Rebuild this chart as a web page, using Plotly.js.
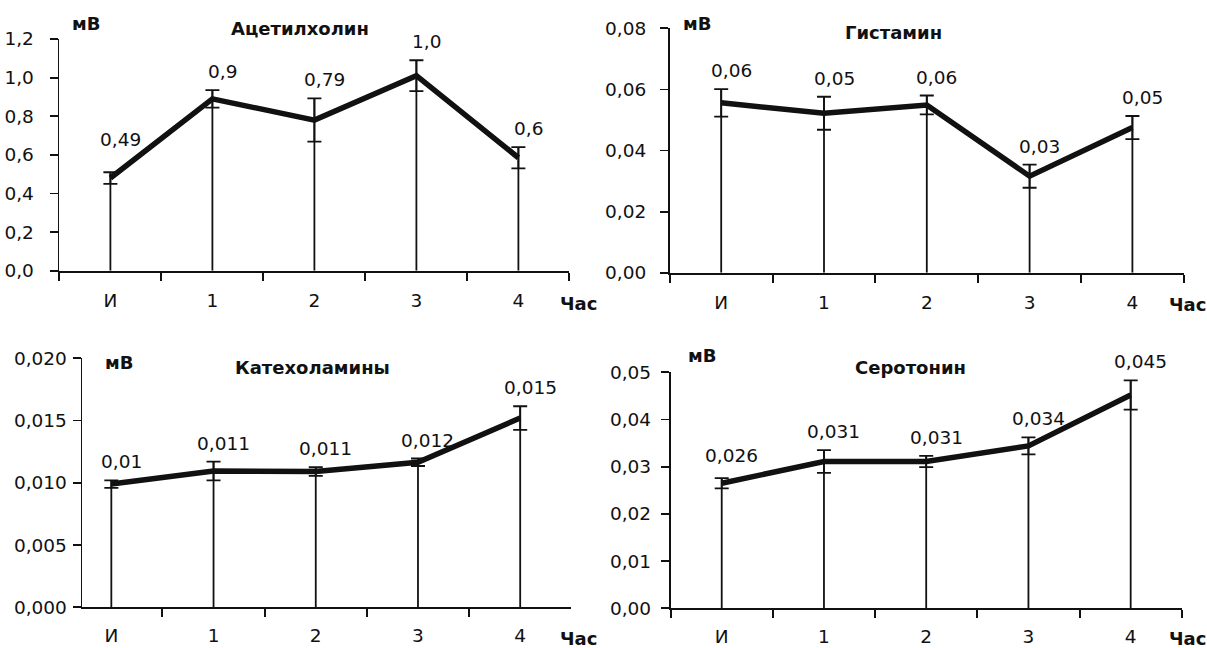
<!DOCTYPE html>
<html>
<head>
<meta charset="utf-8">
<script src="https://cdn.plot.ly/plotly-3.0.1.min.js"></script>
<style>html,body{margin:0;padding:0;background:#fff}#chart{width:1207px;height:648px}</style>
</head>
<body>
<div id="chart"></div>
<script>
// ---- data ----
const hours = ['И', '1', '2', '3', '4'];

const achTitle = 'Ацетилхолин';
const achMean = [0.48, 0.89, 0.78, 1.01, 0.585];
const achErr = [0.03, 0.045, 0.112, 0.08, 0.055];
const achLabels = ['0,49', '0,9', '0,79', '1,0', '0,6'];

const hisTitle = 'Гистамин';
const hisMean = [0.0556, 0.0522, 0.0549, 0.0316, 0.0475];
const hisErr = [0.0045, 0.0054, 0.0031, 0.0038, 0.0038];
const hisLabels = ['0,06', '0,05', '0,06', '0,03', '0,05'];

const catTitle = 'Катехоламины';
const catMean = [0.0099, 0.01095, 0.0109, 0.01165, 0.0152];
const catErr = [0.0003, 0.00075, 0.00035, 0.0003, 0.00095];
const catLabels = ['0,01', '0,011', '0,011', '0,012', '0,015'];

const serTitle = 'Серотонин';
const serMean = [0.0265, 0.0311, 0.0311, 0.0344, 0.0452];
const serErr = [0.0011, 0.0024, 0.0012, 0.0018, 0.0031];
const serLabels = ['0,026', '0,031', '0,031', '0,034', '0,045'];

const yUnit = 'мВ';
const xUnit = 'Час';

// ---- layout helpers ----
const W = 1207, H = 648;
const px = x => x / W;
const py = y => 1 - y / H;
const FONT = 'DejaVu Sans, Liberation Sans, Arial, sans-serif';
const INK = '#111';
const FS = 18.5;

const traces = [];
const annotations = [];
const layout = {
  width: W, height: H,
  margin: {l: 0, r: 0, t: 0, b: 0},
  paper_bgcolor: '#fff', plot_bgcolor: 'rgba(0,0,0,0)',
  showlegend: false,
  separators: ', ',
  font: {family: FONT, size: FS, color: INK},
  annotations: annotations
};

const panels = [
  {mean: achMean, err: achErr, labels: achLabels, title: achTitle,
   xd: [59.4, 569.4], yd: [39, 270.7], xr: [-0.5, 4.5], yr: [0, 1.2], dt: 0.2, fmt: '.1f', stand: 12, xstand: 12,
   lift: [14, 0, 0, 0, 0],
   tpos: [300, 29], mpos: [86, 23], hpos: [578, 303]},
  {mean: hisMean, err: hisErr, labels: hisLabels, title: hisTitle,
   xd: [669.8, 1183.8], yd: [28.3, 272.7], xr: [-0.5, 4.5], yr: [0, 0.08], dt: 0.02, fmt: '.2f', stand: 10, xstand: 12,
   lift: [0, 0, 0, 0, 0],
   tpos: [894, 32], mpos: [697, 23], hpos: [1187, 304]},
  {mean: catMean, err: catErr, labels: catLabels, title: catTitle,
   xd: [82.4, 571.3], yd: [358.3, 607.3], xr: [-0.283, 4.5], yr: [0, 0.02], dt: 0.005, fmt: '.3f', stand: 2, xstand: 10,
   lift: [0, 0, 0, 0, 0],
   tpos: [312, 367], mpos: [118.5, 362], hpos: [578, 638]},
  {mean: serMean, err: serErr, labels: serLabels, title: serTitle,
   xd: [670.6, 1181.8], yd: [372.3, 608.3], xr: [-0.5, 4.5], yr: [0, 0.05], dt: 0.01, fmt: '.2f', stand: 6, xstand: 10,
   lift: [4, 0, 0, 0, 0],
   tpos: [910, 367], mpos: [702, 355], hpos: [1187, 638]}
];

panels.forEach((p, i) => {
  const n = i === 0 ? '' : String(i + 1);
  const xa = 'x' + n, ya = 'y' + n;
  const upper = p.mean.map((m, k) => m + p.err[k]);

  // drop lines from zero to the top of the error bar
  traces.push({
    type: 'scatter', mode: 'markers', x: hours, y: p.mean, xaxis: xa, yaxis: ya,
    marker: {size: 1, color: 'rgba(0,0,0,0)'}, hoverinfo: 'skip',
    error_y: {type: 'data', symmetric: false, array: p.err, arrayminus: p.mean,
              width: 0, thickness: 1.8, color: INK}
  });
  // mean line with capped error bars
  traces.push({
    type: 'scatter', mode: 'lines', x: hours, y: p.mean, xaxis: xa, yaxis: ya,
    line: {color: INK, width: 5.5},
    error_y: {type: 'data', array: p.err, width: 7, thickness: 1.8, color: INK}
  });

  layout['xaxis' + n] = {
    type: 'category', domain: [px(p.xd[0]), px(p.xd[1])], range: p.xr, anchor: ya,
    showline: true, linecolor: INK, linewidth: 2, mirror: false,
    ticks: 'outside', tickson: 'boundaries', ticklen: 8, tickwidth: 2, tickcolor: INK,
    showgrid: false, zeroline: false, ticklabelstandoff: p.xstand,
    tickfont: {family: FONT, size: FS, color: INK}, fixedrange: true
  };
  layout['yaxis' + n] = {
    domain: [py(p.yd[1]), py(p.yd[0])], range: p.yr, anchor: xa,
    dtick: p.dt, tick0: 0, tickformat: p.fmt,
    showline: true, linecolor: INK, linewidth: 1.8,
    ticks: 'outside', ticklen: 8, tickwidth: 1.8, tickcolor: INK,
    showgrid: false, zeroline: false, ticklabelstandoff: p.stand,
    tickfont: {family: FONT, size: FS, color: INK}, fixedrange: true
  };

  // value labels above the bars
  p.labels.forEach((t, k) => {
    annotations.push({
      xref: xa, yref: ya, x: hours[k], y: upper[k], text: t, showarrow: false,
      xanchor: 'center', yanchor: 'bottom', xshift: 10, yshift: 6 + p.lift[k],
      font: {family: FONT, size: FS, color: INK}
    });
  });

  const bold = {family: FONT, size: 18, color: INK, weight: 'bold'};
  annotations.push({xref: 'paper', yref: 'paper', x: px(p.tpos[0]), y: py(p.tpos[1]),
    text: '<b>' + p.title + '</b>', showarrow: false, xanchor: 'center', yanchor: 'middle', font: bold});
  annotations.push({xref: 'paper', yref: 'paper', x: px(p.mpos[0]), y: py(p.mpos[1]),
    text: '<b>' + yUnit + '</b>', showarrow: false, xanchor: 'center', yanchor: 'middle', font: bold});
  annotations.push({xref: 'paper', yref: 'paper', x: px(p.hpos[0]), y: py(p.hpos[1]),
    text: '<b>' + xUnit + '</b>', showarrow: false, xanchor: 'center', yanchor: 'middle', font: bold});
});

Plotly.newPlot('chart', traces, layout, {displayModeBar: false, staticPlot: true});
</script>
</body>
</html>
